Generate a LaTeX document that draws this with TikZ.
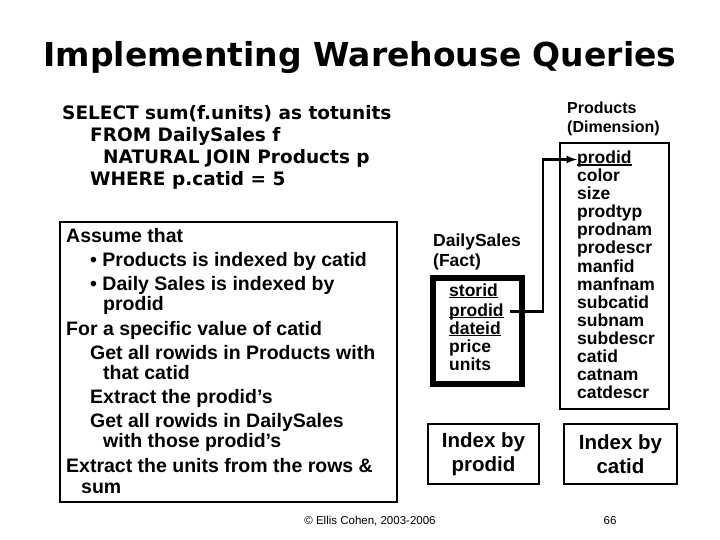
\documentclass[tikz,border=0pt]{standalone}
\usepackage{fontspec}
\setmainfont{Liberation Sans}
\newfontfamily\dv{DejaVu Sans}
\newcommand\myul[1]{\setbox0\hbox{#1}\rlap{\rule[-1.8pt]{\wd0}{1.3pt}}\box0}
\begin{document}
\begin{tikzpicture}[x=1pt,y=-1pt,
  lt/.style={anchor=base west,inner sep=0pt,font=\bfseries\fontsize{19.5}{21}\selectfont},
  pt/.style={anchor=base west,inner sep=0pt,font=\bfseries\fontsize{17.5}{19}\selectfont},
  sq/.style={anchor=base west,inner sep=0pt,font=\dv\bfseries\fontsize{18.5}{20}\selectfont},
  box/.style={draw,line width=3pt}]
\useasboundingbox (0,0) rectangle (720,540);
\node[inner sep=0pt,font=\dv\bfseries\fontsize{33}{36}\selectfont] (title) at (360,58) {Implementing Warehouse Queries};
\node[sq] (s1) at (62,120) {SELECT sum(f.units) as totunits};
\node[sq] (s2) at (90,142) {FROM DailySales f};
\node[sq] (s3) at (103,164) {NATURAL JOIN Products p};
\node[sq] (s4) at (90,186) {WHERE p.catid = 5};
\draw[line width=2.5pt] (60,222) rectangle (397,502);
\foreach \t/\x/\y [count=\i] in {Assume that/66/242, {• Products is indexed by catid}/90/266, {• Daily Sales is indexed by}/90/290, prodid/103/310, For a specific value of catid/66/335, Get all rowids in Products with/90/359, that catid/103/379, Extract the prodid's/90/403, Get all rowids in DailySales/90/427, with those prodid's/103/447, {Extract the units from the rows \&}/66/472, sum/81/493}
  \node[lt] (l\i) at (\x,\y) {\t};
\node[pt] (dsl) at (433,247) {DailySales};
\node[pt] (dsf) at (433,266) {(Fact)};
\draw[line width=6pt] (433,278) rectangle (522,384);
\node[pt] (d1) at (449,296) {\myul{storid}};
\node[pt] (d2) at (449,316) {\myul{prodid}};
\node[pt] (d3) at (449,334) {\myul{dateid}};
\node[pt] (d4) at (449,352) {price};
\node[pt] (d5) at (449,370) {units};
\node[pt,font=\bfseries\fontsize{16}{18}\selectfont] (pl) at (567,114) {Products};
\node[pt,font=\bfseries\fontsize{16}{18}\selectfont] (pd) at (567,133) {(Dimension)};
\draw[line width=2.5pt] (560,143) rectangle (669,409);
\node[pt] (p1) at (577,164) {\myul{prodid}};
\foreach \t [count=\i from 2] in {color,size,prodtyp,prodnam,prodescr,manfid,manfnam,subcatid,subnam,subdescr,catid,catnam,catdescr}
  \node[pt] (p\i) at (577,164+18*\i-18) {\t};
\coordinate (bend) at (543,0);
\draw[line width=2.5pt,-latex] (d2.east)+(6,0) -- (bend |- d2.east) -- (bend |- p1.west) -- (p1.west);
\draw[line width=2.5pt] (428,424) rectangle (539,484);
\node[align=center,inner sep=0pt,font=\bfseries\fontsize{20.5}{24}\selectfont] (ip) at (483.5,454) {Index by\\prodid};
\draw[line width=2.5pt] (564,424) rectangle (677,484);
\node[align=center,inner sep=0pt,font=\bfseries\fontsize{20.5}{24}\selectfont] (ic) at (620.5,454) {Index by\\catid};
\node[inner sep=0pt,font=\fontsize{11.5}{13}\selectfont] (foot) at (370,521) {© Ellis Cohen, 2003-2006};
\node[inner sep=0pt,font=\fontsize{11.5}{13}\selectfont] (pg) at (610,521) {66};
\end{tikzpicture}
\end{document}
